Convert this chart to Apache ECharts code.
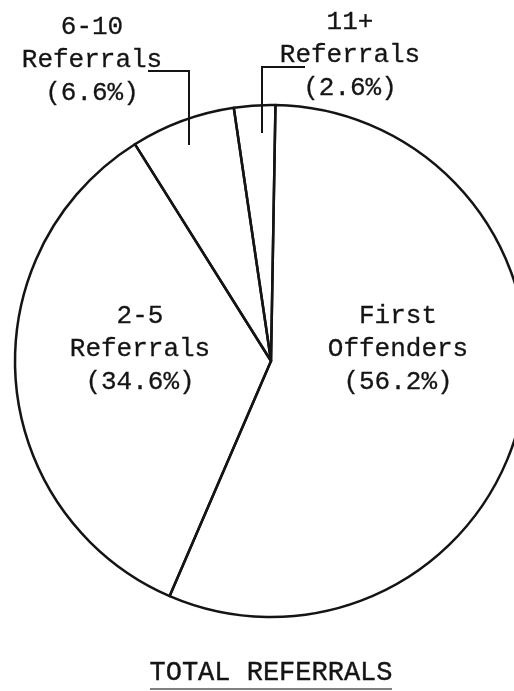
<!DOCTYPE html>
<html>
<head>
<meta charset="utf-8">
<script src="https://cdn.jsdelivr.net/npm/echarts@6/dist/echarts.min.js"></script>
<style>
  html, body { margin: 0; padding: 0; background: #fff; }
  #chart { width: 514px; height: 691px; }
</style>
</head>
<body>
<div id="chart"></div>
<script>
// Kategorie i udziały (%)
const categories = ["First\nOffenders", "2-5\nReferrals", "6-10\nReferrals", "11+\nReferrals"];
const shares = [56.2, 34.6, 6.6, 2.6];
const chartTitle = "TOTAL REFERRALS";

// Położenie etykiet (środek bloku tekstu) i linie odnośników
const labelPos = [[398, 349], [140, 349], [92, 60], [350, 55]];
const pointerLines = [null, null, [[189, 145], [189, 71], [148, 71]], [[262, 133], [262, 67], [305, 67]]];

const font = "'Liberation Mono', 'DejaVu Sans Mono', monospace";
const ink = "#141414";

const chart = echarts.init(document.getElementById("chart"));

const option = {
    backgroundColor: "#fff",
    animation: false,
    graphic: [
        {
            type: "text",
            x: 271, y: 673,
            silent: true,
            style: {
                text: chartTitle,
                fill: ink,
                stroke: ink,
                lineWidth: 0.4,
                font: "27px " + font,
                textAlign: "center",
                textVerticalAlign: "middle"
            }
        },
        {
            type: "line",
            silent: true,
            shape: { x1: 150, y1: 689, x2: 392, y2: 689 },
            style: { stroke: "#555", lineWidth: 1.5 }
        }
    ],
    series: [{
        type: "pie",
        silent: true,
        center: [271, 361],
        radius: 256,
        startAngle: 89,
        clockwise: true,
        avoidLabelOverlap: false,
        // przezroczyste wypełnienie, żeby odnośniki były widoczne wewnątrz wycinków
        itemStyle: { color: "rgba(255,255,255,0)", borderColor: ink, borderWidth: 2.5 },
        label: {
            show: true,
            position: "outside",
            color: ink,
            textBorderColor: ink,
            textBorderWidth: 0.3,
            fontFamily: font,
            fontSize: 26,
            lineHeight: 33,
            align: "center",
            formatter: p => p.name + "\n(" + p.value.toFixed(1) + "%)"
        },
        labelLine: { show: true, smooth: false, lineStyle: { color: ink, width: 2 } },
        labelLayout: params => {
            const p = labelPos[params.dataIndex];
            const out = { x: p[0], y: p[1], align: "center", verticalAlign: "middle" };
            if (pointerLines[params.dataIndex]) out.labelLinePoints = pointerLines[params.dataIndex];
            return out;
        },
        data: categories.map((name, i) => ({
            name: name,
            value: shares[i],
            labelLine: { show: pointerLines[i] !== null }
        }))
    }]
};

chart.setOption(option);
</script>
</body>
</html>
